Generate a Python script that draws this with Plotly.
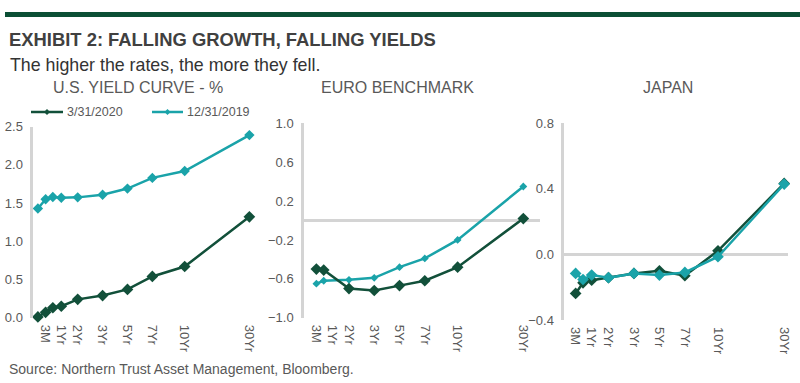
import plotly.graph_objects as go

W, H = 800, 383

# ---------------- data ----------------
tenors = ["1M", "3M", "6M", "1Yr", "2Yr", "3Yr", "5Yr", "7Yr", "10Yr", "30Yr"]
tenor_pos = [-1.6, -1.29, -1.0, -0.66, 0.0, 1.0, 2.0, 3.0, 4.3, 6.9]
tick_labels = ["3M", "1Yr", "2Yr", "3Yr", "5Yr", "7Yr", "10Yr", "30Yr"]

us_tenors = ["1M", "3M", "6M", "1Yr", "2Yr", "3Yr", "5Yr", "7Yr", "10Yr", "30Yr"]
us_2020 = [0.01, 0.07, 0.13, 0.15, 0.24, 0.29, 0.37, 0.54, 0.67, 1.32]
us_2019 = [1.43, 1.55, 1.58, 1.57, 1.575, 1.61, 1.69, 1.83, 1.92, 2.39]

eu_tenors = ["3M", "6M", "2Yr", "3Yr", "5Yr", "7Yr", "10Yr", "30Yr"]
eu_2020 = [-0.50, -0.51, -0.70, -0.72, -0.67, -0.62, -0.48, 0.02]
eu_2019 = [-0.65, -0.62, -0.61, -0.59, -0.48, -0.39, -0.20, 0.35]

jp_tenors = ["3M", "6M", "1Yr", "2Yr", "3Yr", "5Yr", "7Yr", "10Yr", "30Yr"]
jp_2020 = [-0.238, -0.173, -0.157, -0.142, -0.116, -0.10, -0.13, 0.022, 0.433]
jp_2019 = [-0.116, -0.153, -0.126, -0.142, -0.116, -0.126, -0.11, -0.014, 0.429]

series_names = ["3/31/2020", "12/31/2019"]
panel_titles = ["U.S. YIELD CURVE - %", "EURO BENCHMARK", "JAPAN"]

DARK = "#12503a"
TEAL = "#1aa3a9"
GRID = "#d4d4d4"
TXT = "#595959"
FONT = "Liberation Sans, Arial, sans-serif"

pos_of = dict(zip(tenors, tenor_pos))
tick_pos = [pos_of[t] for t in tick_labels]


def px_x(p):
    return p / W


def px_y(p):
    return 1 - p / H


fig = go.Figure()

panels = [
    # (tenors, 2020, 2019, x-range, x-domain px, y-range, y-domain px, yticks, zeroline, teal marker size)
    (us_tenors, us_2020, us_2019, [-1.785, 7.15], (33.3, 255.6), [0, 2.5], (317.7, 126.7),
     [0, 0.5, 1.0, 1.5, 2.0, 2.5], False, 8),
    (eu_tenors, eu_2020, eu_2019, [-1.78, 7.56], (304, 540), [-1.0, 1.0], (317.7, 123.3),
     [-1.0, -0.6, -0.2, 0.2, 0.6, 1.0], True, 6),
    (jp_tenors, jp_2020, jp_2019, [-1.735, 7.05], (564.3, 788), [-0.4, 0.8], (320, 123.3),
     [-0.4, 0.0, 0.4, 0.8], True, 9),
]

for i, (tn, d20, d19, xr, xd, yr, yd, yt, zl, tsize) in enumerate(panels):
    sfx = "" if i == 0 else str(i + 1)
    xs = [pos_of[t] for t in tn]
    t19 = go.Scatter(
        x=xs, y=d19, mode="lines+markers", name=series_names[1], showlegend=False,
        line=dict(color=TEAL, width=2.5), cliponaxis=False,
        marker=dict(symbol="diamond", size=tsize, color=TEAL),
        xaxis="x" + sfx, yaxis="y" + sfx)
    t20 = go.Scatter(
        x=xs, y=d20, mode="lines+markers", name=series_names[0], showlegend=False,
        line=dict(color=DARK, width=2.5), cliponaxis=False,
        marker=dict(symbol="diamond", size=9, color=DARK),
        xaxis="x" + sfx, yaxis="y" + sfx)
    if i == 2:
        fig.add_trace(t20)
        fig.add_trace(t19)
    else:
        fig.add_trace(t19)
        fig.add_trace(t20)
    fig.layout["xaxis" + sfx] = dict(
        domain=[px_x(xd[0]), px_x(xd[1])], range=xr, anchor="y" + sfx, automargin=False,
        tickmode="array", tickvals=tick_pos, ticktext=tick_labels, tickangle=90,
        showgrid=False, zeroline=False, showline=False, ticks="",
        tickfont=dict(family=FONT, size=13, color=TXT), ticklabelstandoff=6)
    fig.layout["yaxis" + sfx] = dict(
        domain=[px_y(yd[0]), px_y(yd[1])], range=yr, anchor="x" + sfx, automargin=False,
        tickmode="array", tickvals=yt, tickformat=".1f",
        showgrid=False, zeroline=zl, zerolinecolor=GRID, zerolinewidth=2.5,
        showline=True, linecolor=GRID, linewidth=2.5, ticks="",
        tickfont=dict(family=FONT, size=13, color=TXT), ticklabelstandoff=5)

annotations = [
    dict(text="<b>EXHIBIT 2: FALLING GROWTH, FALLING YIELDS</b>", x=px_x(7), y=px_y(40),
         xanchor="left", yanchor="middle", font=dict(family=FONT, size=18.4, color="#404040")),
    dict(text="The higher the rates, the more they fell.", x=px_x(7.5), y=px_y(65),
         xanchor="left", yanchor="middle", font=dict(family=FONT, size=17.8, color="#333333")),
    dict(text="Source: Northern Trust Asset Management, Bloomberg.", x=px_x(7), y=px_y(369),
         xanchor="left", yanchor="middle", font=dict(family=FONT, size=14, color=TXT)),
]
for title, cx in zip(panel_titles, [138, 397, 668]):
    annotations.append(dict(text=title, x=px_x(cx), y=px_y(87), xanchor="center", yanchor="middle",
                            font=dict(family=FONT, size=16, color=TXT)))

shapes = [dict(type="rect", xref="paper", yref="paper", x0=px_x(5), x1=1,
               y0=px_y(17), y1=px_y(12), fillcolor="#0b4f35", line=dict(width=0))]

# hand-placed legend (line + small diamond + label), as in the reference
LEG_Y = 112
for name, col, (lx0, lx1) in zip(series_names, [DARK, TEAL], [(31, 63), (152, 183)]):
    shapes.append(dict(type="line", xref="paper", yref="paper",
                       x0=px_x(lx0), x1=px_x(lx1), y0=px_y(LEG_Y), y1=px_y(LEG_Y),
                       line=dict(color=col, width=2.5)))
    cx = (lx0 + lx1) / 2
    d = 3
    path = (f"M {px_x(cx)},{px_y(LEG_Y - d)} L {px_x(cx + d)},{px_y(LEG_Y)} "
            f"L {px_x(cx)},{px_y(LEG_Y + d)} L {px_x(cx - d)},{px_y(LEG_Y)} Z")
    shapes.append(dict(type="path", xref="paper", yref="paper", path=path,
                       fillcolor=col, line=dict(width=0)))
    annotations.append(dict(text=name, x=px_x(lx1 + 2), y=px_y(LEG_Y), xanchor="left",
                            yanchor="middle", font=dict(family=FONT, size=12.5, color=TXT)))

for a in annotations:
    a.update(xref="paper", yref="paper", showarrow=False)

fig.update_layout(
    width=W, height=H, margin=dict(l=0, r=0, t=0, b=0, autoexpand=False),
    paper_bgcolor="white", plot_bgcolor="white",
    annotations=annotations, shapes=shapes, showlegend=False,
)

fig.write_html("out.html", config={"displayModeBar": False},
               post_script="document.body.style.margin='0';")
